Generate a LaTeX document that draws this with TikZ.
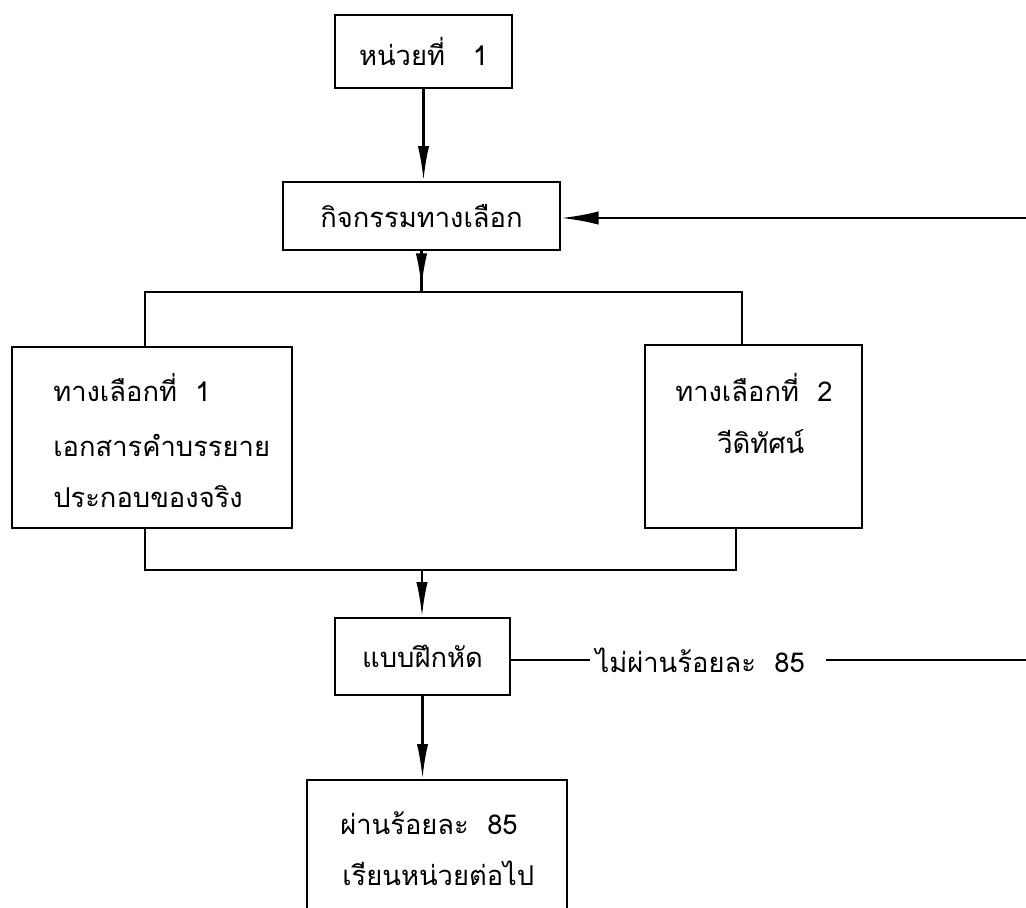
\documentclass[tikz,border=0pt]{standalone}
\usepackage{fontspec}
\newfontfamily\thaifont[Script=Thai]{Loma}
\usetikzlibrary{arrows.meta}
\begin{document}
\begin{tikzpicture}[x=0.75pt,y=-0.75pt,
  box/.style={draw,line width=1.9pt,inner sep=0pt,font=\thaifont\fontsize{20.5pt}{24pt}\selectfont},
  txt/.style={inner sep=0pt,anchor=west,font=\thaifont\fontsize{20.5pt}{24pt}\selectfont},
  conn/.style={line width=1.9pt},
  arr/.style={line width=1.9pt,-{Latex[length=26pt,width=8.5pt]}}]
\clip (0,0) rectangle (1026,908);
\fill[white] (0,0) rectangle (1026,908);
% boxes
\node[box,minimum width=132.75pt,minimum height=54.75pt] (b1) at (423.5,51.5) {หน่วยที่\ \ \ 1};
\node[box,minimum width=207.75pt,minimum height=51pt] (b2) at (421.5,216) {กิจกรรมทางเลือก};
\node[box,minimum width=210pt,minimum height=135.75pt] (bL) at (152,437.5) {};
\node[box,minimum width=162.75pt,minimum height=137.25pt] (bR) at (753.5,436.5) {};
\node[box,minimum width=131.25pt,minimum height=57.75pt] (b3) at (422.5,656.5) {แบบฝึกหัด};
\node[box,minimum width=195pt,minimum height=135pt] (b4) at (437,870) {};
% texts inside
\node[txt] (tL1) at (53,388) {ทางเลือกที่\ \ 1};
\node[txt] (tL2) at (53,445) {เอกสารคำบรรยาย};
\node[txt] (tL3) at (53,497) {ประกอบของจริง};
\node[txt] (tR1) at (675,388) {ทางเลือกที่\ \ 2};
\node[txt] (tR2) at (717,442) {วีดิทัศน์};
\node[txt] (t41) at (340,823) {ผ่านร้อยละ\ \ 85};
\node[txt] (t42) at (342,873) {เรียนหน่วยต่อไป};
\node[txt,inner xsep=4pt] (lbl) at (590,660) {ไม่ผ่านร้อยละ\ \ 85};
% coordinates
\coordinate (split) at (421.5,288);
\coordinate (sl) at (145,292);
\coordinate (sr) at (742,292);
\coordinate (join) at (422,570);
\coordinate (jl) at (145,570);
\coordinate (jr) at (736,570);
\coordinate (rtop) at (1030,218);
\coordinate (rbot) at (1030,660);
% connectors
\draw[arr] (b1.south) -- (b1.south |- b2.north);
\draw[conn] (b2.south) -- (b2.south |- sl);
\draw[arr] (b2.south) -- (split);
\draw[conn] (sl |- bL.north) -- (sl) -- (sr) -- (sr |- bR.north);
\draw[conn] (jl |- bL.south) -- (jl) -- (jr) -- (jr |- bR.south);
\draw[arr] (join) -- (join |- b3.north);
\draw[arr] (b3.south) -- (b3.south |- b4.north);
\draw[conn] (b3.east |- lbl.west) -- (lbl.west);
\draw[conn] ([xshift=12pt]lbl.east) -- (rbot);
\draw[line width=1.9pt,-{Latex[length=28pt,width=10pt]}] (rtop) -- (rtop -| b2.east);
\end{tikzpicture}
\end{document}
